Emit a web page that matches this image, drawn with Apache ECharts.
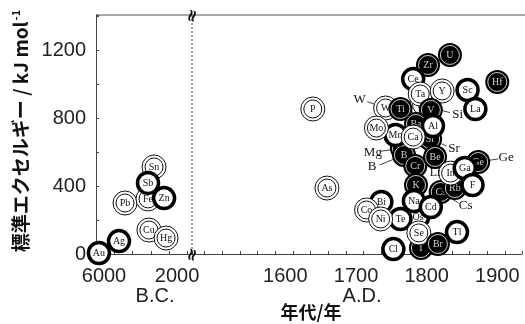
<!DOCTYPE html>
<html>
<head>
<meta charset="utf-8">
<script src="https://cdn.jsdelivr.net/npm/echarts@6/dist/echarts.min.js"></script>
<style>
  html, body { margin: 0; padding: 0; background: #fff; }
  #chart { width: 525px; height: 324px; }
</style>
</head>
<body>
<div id="chart"></div>
<script>
// B.C. elements (year as negative number = B.C.), drawn back to front
const bcElements = ['Pb', 'Sn', 'Fe', 'Sb', 'Zn', 'Cu', 'Hg', 'Au', 'Ag']
const bcYears = [-4410, -2820, -3150, -3150, -2270, -3100, -2160, -5840, -4740]
const bcExergy = [300, 512, 324, 418, 329, 141, 94, 6, 76]

// A.D. elements, drawn back to front
const adElements = ['Si', 'Sr', 'Mg', 'B', 'Cs', 'Ge', 'W', 'Zr', 'Ce', 'Ta', 'Y', 'U', 'Hf', 'Sc', 'La',
  'Ti', 'V', 'Mn', 'Mo', 'Ba', 'Al', 'Ca', 'Cr', 'Be', 'Rb', 'In', 'Ga', 'F', 'K', 'Os', 'Te', 'Na',
  'Cd', 'Bi', 'Co', 'Ni', 'I', 'Se', 'Br', 'Cl', 'Tl', 'P', 'As', 'Li']
const adYears = [1807, 1819, 1779, 1782, 1834, 1887, 1756, 1816, 1795, 1805, 1836, 1847, 1914, 1872, 1883,
  1777, 1820, 1770, 1743, 1799, 1823, 1795, 1798, 1826, 1854, 1848, 1868, 1879, 1799, 1802, 1777, 1796,
  1820, 1750, 1729, 1749, 1806, 1803, 1830, 1767, 1857, 1653, 1673, 1826]
const adExergy = [876, 676, 623, 582, 365, 541, 859, 1112, 1029, 941, 959, 1171, 1012, 965, 853,
  853, 847, 700, 741, 765, 753, 688, 518, 571, 388, 476, 506, 406, 406, 218, 206, 312,
  276, 306, 259, 206, 35, 124, 59, 29, 129, 853, 388, 476]

const yTicks = [0, 400, 800, 1200]
const bcTicks = [-6000, -2000]
const adTicks = [1600, 1700, 1800, 1900]

// marker look
const ringSet = ['Au', 'Ag', 'Sb', 'Zn', 'Ce', 'Sc', 'La', 'Mn', 'Al', 'Ga', 'F', 'Na', 'Cd', 'Bi', 'Te', 'Os', 'Tl', 'Cl']
const filledSet = ['U', 'Zr', 'Hf', 'Ti', 'V', 'Ba', 'Sr', 'Mg', 'B', 'Cr', 'Be', 'Ge', 'Rb', 'Cs', 'K', 'I', 'Br']
const textOnlySet = ['Li']

// labels placed outside the cluster with a leader line
const callout = {
  W: [-26, -8], Si: [36, 9], Sr: [24, 9], Mg: [-29, 4], B: [-32, 12], Ge: [28, -4], Cs: [25, 14]
}

const serif = '"Liberation Serif", "Times New Roman", serif'
const sans = '"Liberation Sans", Arial, sans-serif'

function markerRenderer(names) {
  return function (params, api) {
    const p = api.coord([api.value(0), api.value(1)])
    const cx = p[0], cy = p[1]
    const name = names[params.dataIndex]
    const kids = []

    const off = callout[name]
    if (off) {
      const lx = cx + off[0], ly = cy + off[1]
      const d = Math.hypot(off[0], off[1])
      const ux = off[0] / d, uy = off[1] / d
      kids.push({
        type: 'line',
        shape: { x1: lx - ux * 8, y1: ly - uy * 6, x2: cx, y2: cy },
        style: { stroke: '#111', lineWidth: 0.8 }
      })
      kids.push({
        type: 'text',
        style: { text: name, x: lx, y: ly, align: 'center', verticalAlign: 'middle', font: '13px ' + serif, fill: '#111' }
      })
    }

    if (textOnlySet.includes(name)) {
      kids.push({
        type: 'text',
        style: { text: name, x: cx, y: cy, align: 'center', verticalAlign: 'middle', font: '12px ' + serif, fill: '#111' }
      })
      return { type: 'group', children: kids }
    }

    let txtColor = '#111'
    if (ringSet.includes(name)) {
      kids.push({ type: 'circle', shape: { cx: cx, cy: cy, r: 10.5 }, style: { fill: '#fff', stroke: '#000', lineWidth: 3.5 } })
    } else if (filledSet.includes(name)) {
      kids.push({ type: 'circle', shape: { cx: cx, cy: cy, r: 12 }, style: { fill: '#000' } })
      kids.push({ type: 'circle', shape: { cx: cx, cy: cy, r: 9.5 }, style: { fill: 'none', stroke: '#fff', lineWidth: 0.8 } })
      txtColor = '#cfcfcf'
    } else {
      kids.push({ type: 'circle', shape: { cx: cx, cy: cy, r: 12 }, style: { fill: '#fff', stroke: '#111', lineWidth: 1 } })
      kids.push({ type: 'circle', shape: { cx: cx, cy: cy, r: 9 }, style: { fill: 'none', stroke: '#111', lineWidth: 1 } })
    }
    kids.push({
      type: 'text',
      style: { text: name, x: cx, y: cy, align: 'center', verticalAlign: 'middle', font: '10px ' + serif, fill: txtColor }
    })
    return { type: 'group', children: kids }
  }
}

const axisLine = { show: true, lineStyle: { color: '#444', width: 1 } }
const axisTick = { show: true, inside: true, length: 3, lineStyle: { color: '#444' } }
const labelStyle = { fontFamily: sans, fontSize: 20, color: '#222' }

const chart = echarts.init(document.getElementById('chart'), null, { renderer: 'canvas' })

chart.setOption({
  animation: false,
  backgroundColor: '#fff',
  grid: [
    { left: 96, right: 333, top: 15, bottom: 70 },
    { left: 187, right: 0, top: 15, bottom: 70 }
  ],
  xAxis: [
    {
      gridIndex: 0, type: 'value', min: -6000, max: -740, interval: 1000,
      axisLine: axisLine, axisTick: axisTick, splitLine: { show: false },
      axisLabel: Object.assign({
        margin: 12, showMinLabel: true, padding: [0, 0, 0, 16],
        formatter: v => bcTicks.includes(v) ? String(-v) : ''
      }, labelStyle)
    },
    {
      gridIndex: 1, type: 'value', min: 1475, max: 1949, interval: 25,
      axisLine: axisLine, axisTick: axisTick, splitLine: { show: false },
      axisLabel: Object.assign({
        margin: 12, padding: [0, 0, 0, 20],
        formatter: v => adTicks.includes(v) ? String(v) : ''
      }, labelStyle)
    }
  ],
  yAxis: [
    {
      gridIndex: 0, type: 'value', min: 0, max: 1406, interval: 200,
      axisLine: axisLine, axisTick: axisTick, splitLine: { show: false },
      axisLabel: Object.assign({
        margin: 10, formatter: v => yTicks.includes(v) ? String(v) : ''
      }, labelStyle)
    },
    {
      gridIndex: 1, type: 'value', min: 0, max: 1406, show: false, splitLine: { show: false }
    }
  ],
  series: [
    {
      type: 'custom', xAxisIndex: 0, yAxisIndex: 0, clip: false,
      renderItem: markerRenderer(bcElements),
      data: bcYears.map((y, i) => [y, bcExergy[i]])
    },
    {
      type: 'custom', xAxisIndex: 1, yAxisIndex: 1, clip: false,
      renderItem: markerRenderer(adElements),
      data: adYears.map((y, i) => [y, adExergy[i]])
    }
  ],
  graphic: [
    // frame top line
    { type: 'line', shape: { x1: 96, y1: 15, x2: 525, y2: 15 }, style: { stroke: '#555', lineWidth: 1 }, z: 1 },
    // break line between B.C. and A.D.
    { type: 'line', shape: { x1: 192, y1: 15, x2: 192, y2: 254 }, style: { stroke: '#444', lineWidth: 1, lineDash: [2, 2] }, z: 1 },
    {
      type: 'text', x: 193, y: 16, rotation: Math.PI * 0.42, z: 10,
      style: { text: '≈', font: 'bold 17px "DejaVu Sans"', fill: '#111', align: 'center', verticalAlign: 'middle' }
    },
    {
      type: 'text', x: 193, y: 255, rotation: Math.PI * 0.42, z: 10,
      style: { text: '≈', font: 'bold 17px "DejaVu Sans"', fill: '#111', align: 'center', verticalAlign: 'middle' }
    },
    {
      type: 'text', x: 155, y: 296,
      style: { text: 'B.C.', font: '20px ' + sans, fill: '#222', align: 'center', verticalAlign: 'middle' }
    },
    {
      type: 'text', x: 362, y: 296,
      style: { text: 'A.D.', font: '20px ' + sans, fill: '#222', align: 'center', verticalAlign: 'middle' }
    },
    {
      type: 'text', x: 311, y: 312,
      style: { text: '年代/年', font: 'bold 18px "Noto Sans CJK JP"', fill: '#111', align: 'center', verticalAlign: 'middle' }
    },
    {
      type: 'text', x: 21, y: 131, rotation: Math.PI / 2,
      style: {
        text: '{a|標準エクセルギー / kJ mol}{s|-1}',
        align: 'center', verticalAlign: 'middle',
        rich: {
          a: { font: 'bold 19px "Noto Sans CJK JP"', fill: '#111' },
          s: { font: 'bold 11px "Noto Sans CJK JP"', fill: '#111', padding: [0, 0, 10, 1] }
        }
      }
    }
  ]
})
</script>
</body>
</html>
